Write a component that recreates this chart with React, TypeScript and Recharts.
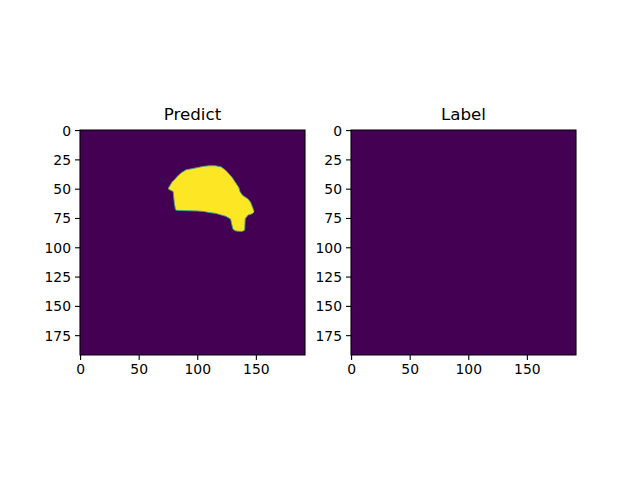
import React from "react";
import { AreaChart, Area, XAxis, YAxis, ReferenceArea } from "recharts";

// image is 192 x 192, pixel centres at integers
const imageSize = 192;
const xTicks = [0, 50, 100, 150];
const yTicks = [0, 25, 50, 75, 100, 125, 150, 175];

// predicted mask, read column by column: x, top row, bottom row
const maskCols = [75, 78, 79, 80, 81, 82, 86, 90, 95, 100, 105, 110, 115, 120, 124, 128, 129, 130, 132, 135, 136, 138, 140, 140.5, 141, 143, 145, 147, 148];
const maskTop = [49, 44, 43, 42, 41, 39.5, 36, 33.5, 32.5, 31.5, 30.5, 30, 30, 31, 34, 38.5, 39.5, 41, 44, 48.5, 52, 55, 56.5, 56.7, 57, 58.5, 61, 66, 69];
const maskBottom = [50, 51.5, 52, 62, 67.5, 68, 68.2, 68.3, 68.5, 68.6, 69, 70, 70.6, 72, 73.2, 75.5, 80, 84, 85.5, 86, 86, 86, 85, 75, 74.5, 72, 71.5, 70.5, 69.5];

// ground truth is empty
const labelCols: number[] = [];
const labelTop: number[] = [];
const labelBottom: number[] = [];

const PURPLE = "#440154";
const YELLOW = "#fde725";
const font = "DejaVu Sans, sans-serif";

function toRows(cols: number[], top: number[], bottom: number[]) {
  return cols.map((x, i) => ({ x, range: [top[i], bottom[i]] }));
}

function Panel({ title, cols, top, bottom, left, yWidth }: {
  title: string; cols: number[]; top: number[]; bottom: number[]; left: number; yWidth: number;
}) {
  const data = toRows(cols, top, bottom);
  const lo = -0.5;
  const hi = imageSize - 0.5;
  const tick = { fill: "#000", fontSize: 13.9, fontFamily: font };
  return (
    <div style={{ position: "absolute", left, top: 0, width: 225 + yWidth + 15, height: 480 }}>
      <div style={{
        position: "absolute", left: yWidth, top: 104, width: 225, textAlign: "center",
        fontFamily: font, fontSize: 16.7, color: "#000", lineHeight: "20px",
      }}>{title}</div>
      <AreaChart width={225 + yWidth + 15} height={480} data={data}
        margin={{ top: 130, right: 15, bottom: 95, left: 0 }}>
        <XAxis type="number" dataKey="x" domain={[lo, hi]} ticks={xTicks} allowDataOverflow
          axisLine={false} tickSize={5} tickMargin={4} tickLine={{ stroke: "#000", strokeWidth: 1.1 }}
          tick={tick} height={30} interval={0} />
        <YAxis type="number" domain={[lo, hi]} ticks={yTicks} reversed allowDataOverflow
          axisLine={false} tickSize={5} tickMargin={4} tickLine={{ stroke: "#000", strokeWidth: 1.1 }}
          tick={tick} width={yWidth} interval={0} />
        <ReferenceArea x1={lo} x2={hi} y1={lo} y2={hi} fill={PURPLE} fillOpacity={1}
          stroke="#000" strokeWidth={1.1} ifOverflow="visible" />
        <Area type="linear" dataKey="range" fill={YELLOW} fillOpacity={1}
          stroke="#3aa58a" strokeWidth={0.9} isAnimationActive={false} dot={false} activeDot={false} />
      </AreaChart>
    </div>
  );
}

export default function App() {
  return (
    <div style={{ position: "absolute", left: 0, top: 0, width: 640, height: 480, background: "#fff" }}>
      <Panel title="Predict" cols={maskCols} top={maskTop} bottom={maskBottom} left={35} yWidth={45} />
      <Panel title="Label" cols={labelCols} top={labelTop} bottom={labelBottom} left={300} yWidth={51} />
    </div>
  );
}
